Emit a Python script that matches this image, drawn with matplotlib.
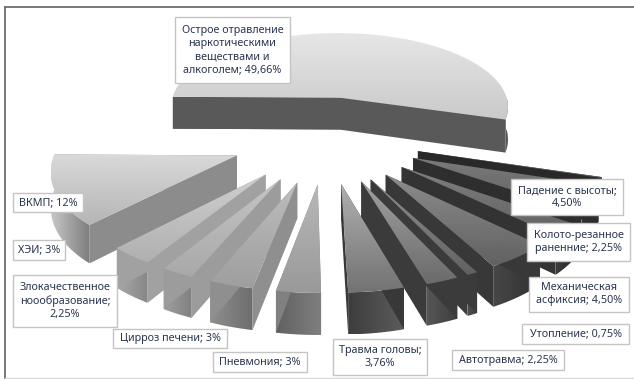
import numpy as np
import matplotlib
matplotlib.use("Agg")
import matplotlib.pyplot as plt
from matplotlib.colors import LinearSegmentedColormap
from matplotlib.patches import Polygon, Rectangle

plt.rcParams['font.family'] = ['Noto Sans', 'DejaVu Sans']

# slices counter-clockwise from the big one; the last one has no label
names = ["Острое отравление\nнаркотическими\nвеществами и\nалкоголем; 49,66%",
         "ВКМП; 12%", "ХЭИ; 3%", "Злокачественное\nноообразование;\n2,25%",
         "Цирроз печени; 3%", "Пневмония; 3%", "Травма головы;\n3,76%",
         "Автотравма; 2,25%", "Утопление; 0,75%", "Механическая\nасфиксия; 4,50%",
         "Колото-резанное\nраненние; 2,25%", "Падение с высоты;\n4,50%", ""]
values = [49.66, 12, 3, 2.25, 3, 3, 3.76, 2.25, 0.75, 4.5, 2.25, 4.5, 0.15]

# grey levels: top face (back, front), cut face, rim (left, right)
top_back = [0.90, 0.85, 0.81, 0.77, 0.74, 0.72, 0.69, 0.63, 0.57, 0.55, 0.50, 0.48, 0.45]
top_front = [0.79, 0.71, 0.69, 0.66, 0.62, 0.60, 0.45, 0.42, 0.38, 0.38, 0.38, 0.38, 0.38]
cut_grey = [0.35, 0.55, 0.63, 0.61, 0.56, 0.50, 0.22, 0.23, 0.23, 0.22, 0.20, 0.18, 0.16]
rim_left = [0.35, 0.78, 0.66, 0.62, 0.56, 0.38, 0.24, 0.34, 0.31, 0.28, 0.23, 0.20, 0.18]
rim_right = [0.35, 0.49, 0.53, 0.50, 0.43, 0.50, 0.36, 0.24, 0.24, 0.19, 0.17, 0.16, 0.16]

# label rectangles in pixels: left, top, right, bottom
boxes = [(175, 17, 290, 83), (13, 193, 83, 212), (13, 240, 65, 260), (13, 275, 117, 327),
         (113, 329, 227, 348), (213, 352, 307, 372), (333, 339, 427, 375), (452, 350, 564, 370),
         (522, 324, 629, 344), (529, 277, 629, 312), (527, 223, 630, 261), (511, 179, 623, 215)]

start_angle = -17
explode = 0.53
center_x, center_y = 326, 138
radius_x, radius_y = 178, 82
depth = 8.0
wall = 34

grey_map = LinearSegmentedColormap.from_list("g", ["black", "white"])


def project(gx, gy, down=0.0):
    s = depth / (depth + gy)
    return center_x + radius_x * gx * s, center_y - radius_y * gy * s + wall * down * s


def shaded(ax, pts, g0, g1, z, horizontal=False):
    # gradient image clipped to a polygon
    pts = np.asarray(pts)
    x0, y0 = pts.min(axis=0)
    x1, y1 = pts.max(axis=0)
    ramp = np.linspace(g0, g1, 64)
    img = ramp[None, :] if horizontal else ramp[:, None]
    im = ax.imshow(img, cmap=grey_map, vmin=0, vmax=1, extent=(x0, x1, y1, y0),
                   aspect='auto', zorder=z, interpolation='bilinear')
    im.set_clip_path(Polygon(pts, closed=True, transform=ax.transData))


fig = plt.figure(figsize=(6.34, 3.79), dpi=100)
ax = fig.add_axes([0, 0, 1, 1])
ax.set_xlim(0, 634)
ax.set_ylim(379, 0)
ax.axis('off')

total = sum(values)
edges = start_angle + np.cumsum([0] + values) / total * 360
mids = (edges[:-1] + edges[1:]) / 2

# back slices first so nearer ones cover them
order = sorted(range(len(values)), key=lambda i: -np.sin(np.radians(mids[i])))
z = 2
for i in order:
    bis = np.radians(mids[i])
    ax0 = explode * np.cos(bis)
    ay0 = explode * np.sin(bis)
    th = np.radians(np.linspace(edges[i], edges[i + 1], 60))
    gx = ax0 + np.cos(th)
    gy = ay0 + np.sin(th)

    top = [project(ax0, ay0)] + [project(a, b) for a, b in zip(gx, gy)]
    cuts = []
    for k in (0, -1):
        cuts.append([project(ax0, ay0), project(gx[k], gy[k]),
                     project(gx[k], gy[k], 1), project(ax0, ay0, 1)])
    cuts.sort(key=lambda c: c[1][1])

    # only the part of the rim facing the viewer
    mask = np.sin(th) < 0.02
    if mask.sum() > 1:
        rim = [project(a, b) for a, b in zip(gx[mask], gy[mask])] + \
              [project(a, b, 1) for a, b in zip(gx[mask][::-1], gy[mask][::-1])]
        shaded(ax, rim, rim_left[i], rim_right[i], z, horizontal=True)
        z += 1
    for c in cuts:
        ax.add_patch(Polygon(c, closed=True, fc=str(cut_grey[i]), ec='none', zorder=z))
        z += 1
    shaded(ax, top, top_back[i], top_front[i], z)
    z += 1

# frame of the chart area
ax.plot([5, 5], [7, 379], color='#6e6e6e', lw=1.3, zorder=50)
ax.plot([5, 634], [7, 7], color='#6e6e6e', lw=1.3, zorder=50)
ax.plot([5, 634], [377.5, 377.5], color='#d8d8d8', lw=1, zorder=50)

for name, (l, t, r, b) in zip(names, boxes):
    ax.add_patch(Rectangle((l, t), r - l, b - t, fc='white', ec='#c4c4c4', lw=1, zorder=60))
    ax.text((l + r) / 2, (t + b) / 2, name, ha='center', va='center', fontsize=7.8,
            color='#2b3650', linespacing=1.25, zorder=61)

fig.savefig("out.png", dpi=100)
